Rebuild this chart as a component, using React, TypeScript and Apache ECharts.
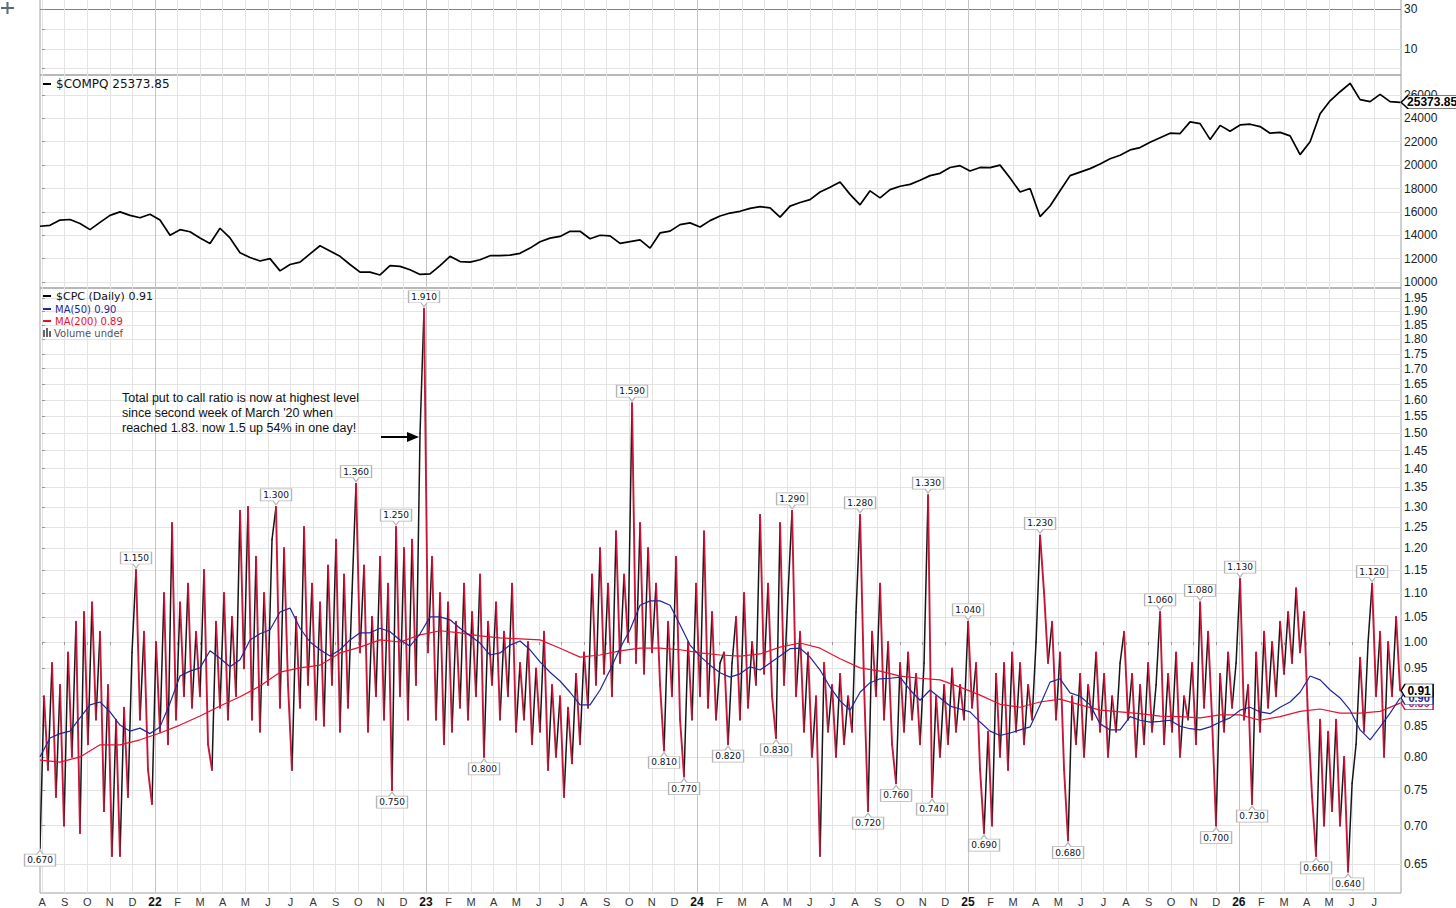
import React, { useEffect, useRef } from "react";
import * as echarts from "echarts";

// ---------------- data ----------------
// month tick labels, Aug 2021 .. Jul 2026 (one per month start)
const X_TICK_LABELS = [
  "A","S","O","N","D","22","F","M","A","M","J","J","A","S","O","N","D","23",
  "F","M","A","M","J","J","A","S","O","N","D","24","F","M","A","M","J","J",
  "A","S","O","N","D","25","F","M","A","M","J","J","A","S","O","N","D","26",
  "F","M","A","M","J","J",
];
const X_TICKS = X_TICK_LABELS.map((_, i) => i); // month offsets from Aug 2021

const CPC_TICKS = [0.65,0.7,0.75,0.8,0.85,0.9,0.95,1.0,1.05,1.1,1.15,1.2,1.25,1.3,1.35,1.4,1.45,1.5,1.55,1.6,1.65,1.7,1.75,1.8,1.85,1.9,1.95];
const COMPQ_TICKS = [10000,12000,14000,16000,18000,20000,22000,24000,26000];
const TOP_GRID_TICKS = [0,10,20,30];
const TOP_LABEL_TICKS = [10,30];

// $COMPQ (sampled evenly across the period)
const COMPQ = [
  14770,14850,15300,15350,15000,14480,15100,15700,16000,15700,
  15500,15800,15300,14000,14480,14300,13770,13300,14600,13770,
  12500,12100,11800,12000,10950,11500,11700,12400,13100,12650,
  12200,11500,10850,10850,10600,11400,11340,11050,10650,10700,
  11400,12200,11750,11700,11900,12250,12250,12300,12450,12900,
  13450,13750,13900,14340,14340,13700,14000,13950,13300,13450,
  13600,12900,14200,14350,14910,15060,14700,15250,15650,15900,
  16050,16300,16450,16350,15550,16490,16800,17050,17700,18100,
  18550,17500,16600,17800,17200,17900,18190,18350,18700,19100,
  19300,19800,19950,19500,19800,19780,20000,18900,17700,18000,
  15600,16500,17800,19100,19400,19700,20100,20550,20850,21300,
  21500,21950,22350,22730,22700,23700,23550,22200,23400,22900,
  23440,23500,23300,22730,22800,22500,20900,22000,24400,25500,
  26280,27000,25600,25430,26050,25430,25373.85,
];

// $CPC daily put/call ratio (sampled evenly across the period)
const CPC = [
  0.67,0.90,0.78,0.96,0.74,0.92,0.70,0.98,0.80,1.04,
  0.69,1.06,0.82,1.08,0.86,1.02,0.72,0.92,0.66,0.86,
  0.66,0.88,0.74,0.98,1.15,0.86,1.02,0.78,0.73,1.00,
  0.84,1.10,0.82,1.26,0.86,1.08,0.90,1.12,0.88,1.02,
  0.90,1.15,0.82,0.78,1.04,0.88,1.10,0.86,1.05,0.90,
  1.29,0.95,1.30,0.86,1.18,0.84,1.10,0.92,1.22,1.30,
  0.88,1.20,0.92,0.78,1.05,0.88,1.25,0.92,1.12,0.86,
  1.08,0.85,1.16,0.92,1.22,0.84,1.14,0.88,1.10,1.36,
  0.98,1.16,0.84,1.05,0.90,1.18,0.86,1.12,0.75,1.25,
  0.90,1.20,0.86,1.22,0.92,1.50,1.91,0.98,1.18,0.86,
  1.10,0.82,1.08,0.84,1.04,0.88,1.12,0.86,1.06,0.90,
  1.14,0.80,1.04,0.92,1.08,0.86,1.02,0.90,1.12,0.84,
  0.96,0.86,1.00,0.82,0.95,0.84,1.02,0.78,0.92,0.80,
  0.90,0.74,0.88,0.79,0.94,0.82,0.98,0.88,1.14,0.92,
  1.20,0.94,1.12,0.90,1.24,0.96,1.14,1.00,1.59,0.96,
  1.26,0.94,1.20,0.98,1.12,0.92,0.81,1.04,0.90,1.18,
  0.86,0.77,1.00,0.86,1.12,0.90,1.24,0.88,1.06,0.86,
  0.96,0.98,0.82,0.96,1.05,0.86,1.10,0.88,1.00,0.92,
  1.28,0.94,1.12,0.90,0.83,1.26,0.92,1.10,1.29,0.90,
  1.02,0.84,0.98,0.80,0.90,0.66,0.96,0.84,0.92,0.80,
  0.94,0.82,0.90,0.84,1.06,1.28,0.92,0.72,1.02,0.90,
  1.12,0.86,1.00,0.82,0.76,0.96,0.84,0.98,0.86,0.94,
  0.82,0.96,1.33,0.74,0.90,0.80,0.92,0.82,0.95,0.84,
  0.92,0.86,1.04,0.88,0.96,0.78,0.69,0.84,0.70,0.94,
  0.80,0.96,0.78,0.98,0.84,0.96,0.82,0.92,0.86,1.00,
  1.23,1.10,0.96,1.04,0.86,0.98,0.78,0.68,0.90,0.82,
  0.94,0.80,0.92,0.86,0.98,0.84,0.94,0.80,0.90,0.84,
  0.96,1.02,0.86,0.94,0.80,0.92,0.82,0.96,0.84,0.92,
  1.06,0.82,0.94,0.84,0.98,0.80,0.90,0.86,0.96,0.82,
  1.08,0.88,1.02,0.86,0.70,0.94,0.84,0.98,0.88,0.96,
  1.13,0.86,0.92,0.73,0.98,0.84,1.02,0.88,1.00,0.90,
  1.04,0.94,1.06,0.96,1.11,0.98,1.06,0.86,0.74,0.66,
  0.86,0.70,0.84,0.72,0.86,0.70,0.80,0.64,0.76,0.82,
  0.97,0.84,1.00,1.12,0.90,1.02,0.80,1.00,0.90,1.05,
  0.91,
];

// MA(50) of $CPC
const MA50 = [
  0.800,0.830,0.837,0.841,0.863,0.885,0.890,0.873,0.851,0.841,
  0.846,0.837,0.848,0.888,0.936,0.945,0.951,0.983,0.969,0.953,
  0.966,1.004,1.016,1.024,1.060,1.068,1.027,1.000,0.985,0.973,
  0.985,1.004,1.018,1.018,1.027,1.020,1.004,0.992,1.016,1.050,
  1.050,1.044,1.027,1.012,0.998,0.975,0.979,0.994,1.002,0.985,
  0.962,0.943,0.927,0.907,0.885,0.885,0.911,0.947,0.988,1.024,
  1.074,1.083,1.083,1.074,1.034,0.994,0.973,0.956,0.942,0.934,
  0.940,0.953,0.947,0.960,0.973,0.987,0.988,0.971,0.947,0.916,
  0.892,0.876,0.907,0.924,0.931,0.932,0.934,0.911,0.893,0.911,
  0.897,0.883,0.878,0.873,0.856,0.841,0.834,0.838,0.843,0.848,
  0.885,0.925,0.931,0.906,0.900,0.885,0.853,0.843,0.843,0.865,
  0.859,0.856,0.857,0.859,0.849,0.845,0.843,0.848,0.856,0.863,
  0.876,0.881,0.873,0.870,0.881,0.890,0.907,0.936,0.929,0.911,
  0.897,0.876,0.843,0.827,0.848,0.871,0.897,
];

// MA(200) of $CPC
const MA200 = [
  0.795,0.792,0.800,0.819,0.819,0.827,0.838,0.851,0.866,0.883,
  0.899,0.918,0.943,0.951,0.956,0.979,0.990,1.004,1.000,1.014,
  1.022,1.018,1.012,1.008,1.006,1.004,0.988,0.971,0.975,0.983,
  0.988,0.988,0.985,0.979,0.975,0.973,0.977,0.990,0.998,0.988,
  0.968,0.951,0.945,0.936,0.932,0.929,0.916,0.902,0.886,0.881,
  0.890,0.895,0.885,0.876,0.873,0.870,0.866,0.865,0.863,0.868,
  0.868,0.859,0.865,0.874,0.878,0.871,0.871,0.874,0.888,
];

// indices (into CPC) of the annotated highs and lows
const PEAK_HIGHS = [24,59,79,89,96,148,188,205,222,232,250,280,290,300,333];
const PEAK_LOWS = [0,88,111,156,161,172,184,207,214,223,236,257,294,303,319,327];

const NOTE_LINES = [
  "Total put to call ratio is now at highest level",
  "since second week of March '20 when",
  "reached 1.83. now 1.5 up 54% in one day!",
];

// ---------------- layout / style ----------------
const X_MIN = -0.093;
const X_MAX = 60.18;
const DATA_FIRST = -0.093;
const DATA_LAST = 60.14;
const CPC_AXIS_MIN = 0.6142;
const CPC_AXIS_MAX = 1.9885;
const COMPQ_AXIS_MIN = 9487;
const COMPQ_AXIS_MAX = 27711;
const TOP_AXIS_MIN = -3.18;
const TOP_AXIS_MAX = 35.2;

const FONT_SC = "'DejaVu Sans', Verdana, sans-serif";
const FONT_AX = "'Liberation Sans', Arial, sans-serif";
const FONT_X = "'Liberation Sans Narrow', 'Liberation Sans', Arial, sans-serif";

const GRID_LINE = "#e4e4e4";
const YEAR_LINE = "#c4c4c4";
const BORDER = "#a0a0a0";
const CPC_RED = "#c8163a";
const MA200_RED = "#e3122f";
const MA50_BLUE = "#1e2896";

const xAt = (i: number, n: number) => DATA_FIRST + (i * (DATA_LAST - DATA_FIRST)) / (n - 1);
const toPairs = (arr: number[], f?: (v: number) => number) =>
  arr.map((v, i) => [xAt(i, arr.length), f ? f(v) : v]);

const X_SPLIT_COLORS = Array.from({ length: 12 }, (_, k) => (k === 5 ? YEAR_LINE : GRID_LINE));

const makeX = (gridIndex: number, labels: boolean) => ({
  type: "value",
  gridIndex,
  min: X_MIN,
  max: X_MAX,
  axisLine: { show: false },
  axisTick: { show: labels, customValues: X_TICKS, length: 3, lineStyle: { color: "#999" } },
  axisLabel: {
    show: labels,
    customValues: X_TICKS,
    margin: 3,
    formatter: (v: number) => {
      const t = X_TICK_LABELS[Math.round(v)] ?? "";
      return /^\d+$/.test(t) ? `{y|${t}}` : `{m|${t}}`;
    },
    rich: {
      y: { fontWeight: "bold", fontSize: 12, color: "#111", fontFamily: FONT_X },
      m: { fontSize: 11, color: "#333", fontFamily: FONT_X },
    },
  },
  splitLine: { show: true, lineStyle: { color: X_SPLIT_COLORS, width: 1 } },
});

const makeY = (
  gridIndex: number,
  min: number,
  max: number,
  tickVals: number[],
  labelVals: number[],
  fmt: (v: number) => string,
  splitColors?: string[]
) => ({
  type: "value",
  gridIndex,
  position: "right",
  min,
  max,
  axisLine: { show: false },
  axisTick: { show: true, customValues: tickVals, length: 3, lineStyle: { color: "#999" } },
  axisLabel: {
    customValues: labelVals,
    formatter: fmt,
    margin: 3,
    color: "#222",
    fontSize: 12,
    fontFamily: FONT_AX,
  },
  splitLine: { show: true, lineStyle: { color: splitColors ?? GRID_LINE, width: 1 } },
});

const CALLOUT_UP = "path://M0,0 L31,0 L31,12 L18.5,12 L15.5,16 L12.5,12 L0,12 Z";
const CALLOUT_DOWN = "path://M0,4 L12.5,4 L15.5,0 L18.5,4 L31,4 L31,16 L0,16 Z";
const END_BOX = "path://M0,6.5 L6,0 L50,0 L50,13 L6,13 Z";

const peakMark = (i: number, up: boolean) => ({
  coord: [xAt(i, CPC.length), Math.log(CPC[i])],
  value: CPC[i],
  symbol: up ? CALLOUT_UP : CALLOUT_DOWN,
  symbolSize: [31, 16],
  symbolOffset: [0, up ? -10 : 10],
  itemStyle: { color: "#fff", borderColor: "#b4b4b4", borderWidth: 1 },
  label: {
    show: true,
    position: "inside",
    offset: [0, up ? -2 : 2],
    formatter: CPC[i].toFixed(3),
    color: "#111",
    fontSize: 9,
    fontFamily: FONT_SC,
  },
});

const endBox = (coord: number[], text: string, color: string, width: number, size: number) => ({
  coord,
  value: text,
  symbol: END_BOX,
  symbolSize: [width, 13],
  symbolOffset: [width / 2 + 1, 0],
  itemStyle: { color: "#fff", borderColor: color, borderWidth: 1 },
  label: {
    show: true,
    position: "inside",
    offset: [2, 0],
    formatter: text,
    color,
    fontWeight: "bold",
    fontSize: size,
    fontFamily: FONT_AX,
  },
});

const segSeries = (segs: number[][], color: string, width: number, z: number) => ({
  type: "custom",
  xAxisIndex: 2,
  yAxisIndex: 2,
  data: segs,
  silent: true,
  clip: true,
  z,
  renderItem: (_p: any, api: any) => {
    const a = api.coord([api.value(0), api.value(1)]);
    const b = api.coord([api.value(2), api.value(3)]);
    return {
      type: "line",
      shape: { x1: a[0], y1: a[1], x2: b[0], y2: b[1] },
      style: { stroke: color, lineWidth: width, lineCap: "round" },
    };
  },
});

function buildOption() {
  const n = CPC.length;
  const up: number[][] = [];
  const down: number[][] = [];
  for (let i = 1; i < n; i++) {
    const s = [xAt(i - 1, n), Math.log(CPC[i - 1]), xAt(i, n), Math.log(CPC[i])];
    (CPC[i] >= CPC[i - 1] ? up : down).push(s);
  }
  const lastCpc = CPC[n - 1];
  const lastMa50 = MA50[MA50.length - 1];
  const lastMa200 = MA200[MA200.length - 1];
  const lastCompq = COMPQ[COMPQ.length - 1];

  const gridBase = { left: 40, right: 55, show: true, borderColor: BORDER, borderWidth: 1, containLabel: false, outerBoundsMode: "none" };

  const legendText = (x: number, y: number, text: string, color: string, font: string) => ({
    type: "text",
    x,
    y,
    silent: true,
    z: 100,
    style: { text, fill: color, font, verticalAlign: "middle", align: "left" },
  });
  const dash = (y: number, color: string) => ({
    type: "rect",
    silent: true,
    z: 100,
    shape: { x: 43, y: y - 1, width: 8, height: 2 },
    style: { fill: color },
  });

  return {
    animation: false,
    backgroundColor: "#fff",
    grid: [
      { ...gridBase, top: -1, height: 76 },
      { ...gridBase, top: 75, height: 213 },
      { ...gridBase, top: 288, height: 605 },
    ],
    xAxis: [makeX(0, false), makeX(1, false), makeX(2, true)],
    yAxis: [
      makeY(0, TOP_AXIS_MIN, TOP_AXIS_MAX, TOP_GRID_TICKS, TOP_LABEL_TICKS, (v) => String(Math.round(v)), [GRID_LINE, GRID_LINE, GRID_LINE, "#808080"]),
      makeY(1, COMPQ_AXIS_MIN, COMPQ_AXIS_MAX, COMPQ_TICKS, COMPQ_TICKS, (v) => String(Math.round(v))),
      makeY(
        2,
        Math.log(CPC_AXIS_MIN),
        Math.log(CPC_AXIS_MAX),
        CPC_TICKS.map(Math.log),
        CPC_TICKS.map(Math.log),
        (v) => Math.exp(v).toFixed(2)
      ),
    ],
    series: [
      {
        type: "line",
        name: "$COMPQ",
        xAxisIndex: 1,
        yAxisIndex: 1,
        data: toPairs(COMPQ),
        symbol: "none",
        silent: true,
        z: 3,
        lineStyle: { color: "#000", width: 1.7 },
        markPoint: {
          silent: true,
          z: 9,
          data: [endBox([xAt(COMPQ.length - 1, COMPQ.length), lastCompq], lastCompq.toFixed(2), "#000", 58, 12)],
        },
      },
      segSeries(up, "#161616", 1.5, 2),
      segSeries(down, CPC_RED, 1.9, 3),
      {
        type: "line",
        name: "MA(200)",
        xAxisIndex: 2,
        yAxisIndex: 2,
        data: toPairs(MA200, Math.log),
        symbol: "none",
        silent: true,
        z: 4,
        lineStyle: { color: MA200_RED, width: 1.2 },
        markPoint: {
          silent: true,
          z: 7,
          data: [endBox([xAt(MA200.length - 1, MA200.length), Math.log(lastMa200)], lastMa200.toFixed(2), MA200_RED, 32, 11)],
        },
      },
      {
        type: "line",
        name: "MA(50)",
        xAxisIndex: 2,
        yAxisIndex: 2,
        data: toPairs(MA50, Math.log),
        symbol: "none",
        silent: true,
        z: 5,
        lineStyle: { color: MA50_BLUE, width: 1.2 },
        markPoint: {
          silent: true,
          z: 8,
          data: [endBox([xAt(MA50.length - 1, MA50.length), Math.log(lastMa50)], lastMa50.toFixed(2), MA50_BLUE, 32, 11)],
        },
      },
      {
        type: "line",
        name: "$CPC marks",
        xAxisIndex: 2,
        yAxisIndex: 2,
        data: toPairs(CPC, Math.log),
        symbol: "none",
        silent: true,
        z: 6,
        lineStyle: { opacity: 0, width: 0 },
        markPoint: {
          silent: true,
          z: 10,
          data: [
            ...PEAK_HIGHS.map((i) => peakMark(i, true)),
            ...PEAK_LOWS.map((i) => peakMark(i, false)),
            endBox([xAt(n - 1, n), Math.log(lastCpc)], lastCpc.toFixed(2), "#000", 32, 12),
          ],
        },
      },
    ],
    graphic: [
      // crosshair icon
      { type: "rect", silent: true, z: 100, shape: { x: 1, y: 7, width: 13, height: 2 }, style: { fill: "#5b6b7d" } },
      { type: "rect", silent: true, z: 100, shape: { x: 6.5, y: 2, width: 2, height: 12 }, style: { fill: "#5b6b7d" } },
      // $COMPQ legend
      dash(84, "#000"),
      legendText(56, 84, `$COMPQ ${lastCompq.toFixed(2)}`, "#111", `12px ${FONT_SC}`),
      // $CPC legend
      dash(296, "#000"),
      legendText(56, 296, `$CPC (Daily) ${lastCpc.toFixed(2)}`, "#111", `11px ${FONT_SC}`),
      dash(309, MA50_BLUE),
      legendText(55, 309, `MA(50) ${lastMa50.toFixed(2)}`, MA50_BLUE, `10px ${FONT_SC}`),
      dash(321, MA200_RED),
      legendText(55, 321, `MA(200) ${lastMa200.toFixed(2)}`, MA200_RED, `10px ${FONT_SC}`),
      { type: "rect", silent: true, z: 100, shape: { x: 43, y: 330, width: 2, height: 7 }, style: { fill: "#666" } },
      { type: "rect", silent: true, z: 100, shape: { x: 46, y: 328, width: 2, height: 9 }, style: { fill: "#666" } },
      { type: "rect", silent: true, z: 100, shape: { x: 49, y: 331, width: 2, height: 6 }, style: { fill: "#666" } },
      legendText(54, 333, "Volume undef", "#555", `10px ${FONT_SC}`),
      // note
      {
        type: "text",
        x: 122,
        y: 390,
        silent: true,
        z: 100,
        style: {
          text: NOTE_LINES.join("\n"),
          fill: "#111",
          font: `12.5px ${FONT_AX}`,
          lineHeight: 15,
          verticalAlign: "top",
          align: "left",
        },
      },
      // arrow
      { type: "line", silent: true, z: 100, shape: { x1: 381, y1: 437, x2: 410, y2: 437 }, style: { stroke: "#000", lineWidth: 2 } },
      { type: "polygon", silent: true, z: 100, shape: { points: [[407, 432], [419, 437], [407, 442]] }, style: { fill: "#000" } },
    ],
  };
}

export default function App() {
  const ref = useRef<HTMLDivElement>(null);
  useEffect(() => {
    if (!ref.current) return;
    const chart = echarts.init(ref.current, undefined, { renderer: "svg" });
    chart.setOption(buildOption() as any);
    return () => chart.dispose();
  }, []);
  return (
    <div
      ref={ref}
      style={{ position: "fixed", left: 0, top: 0, width: 1456, height: 908, background: "#fff" }}
    />
  );
}
